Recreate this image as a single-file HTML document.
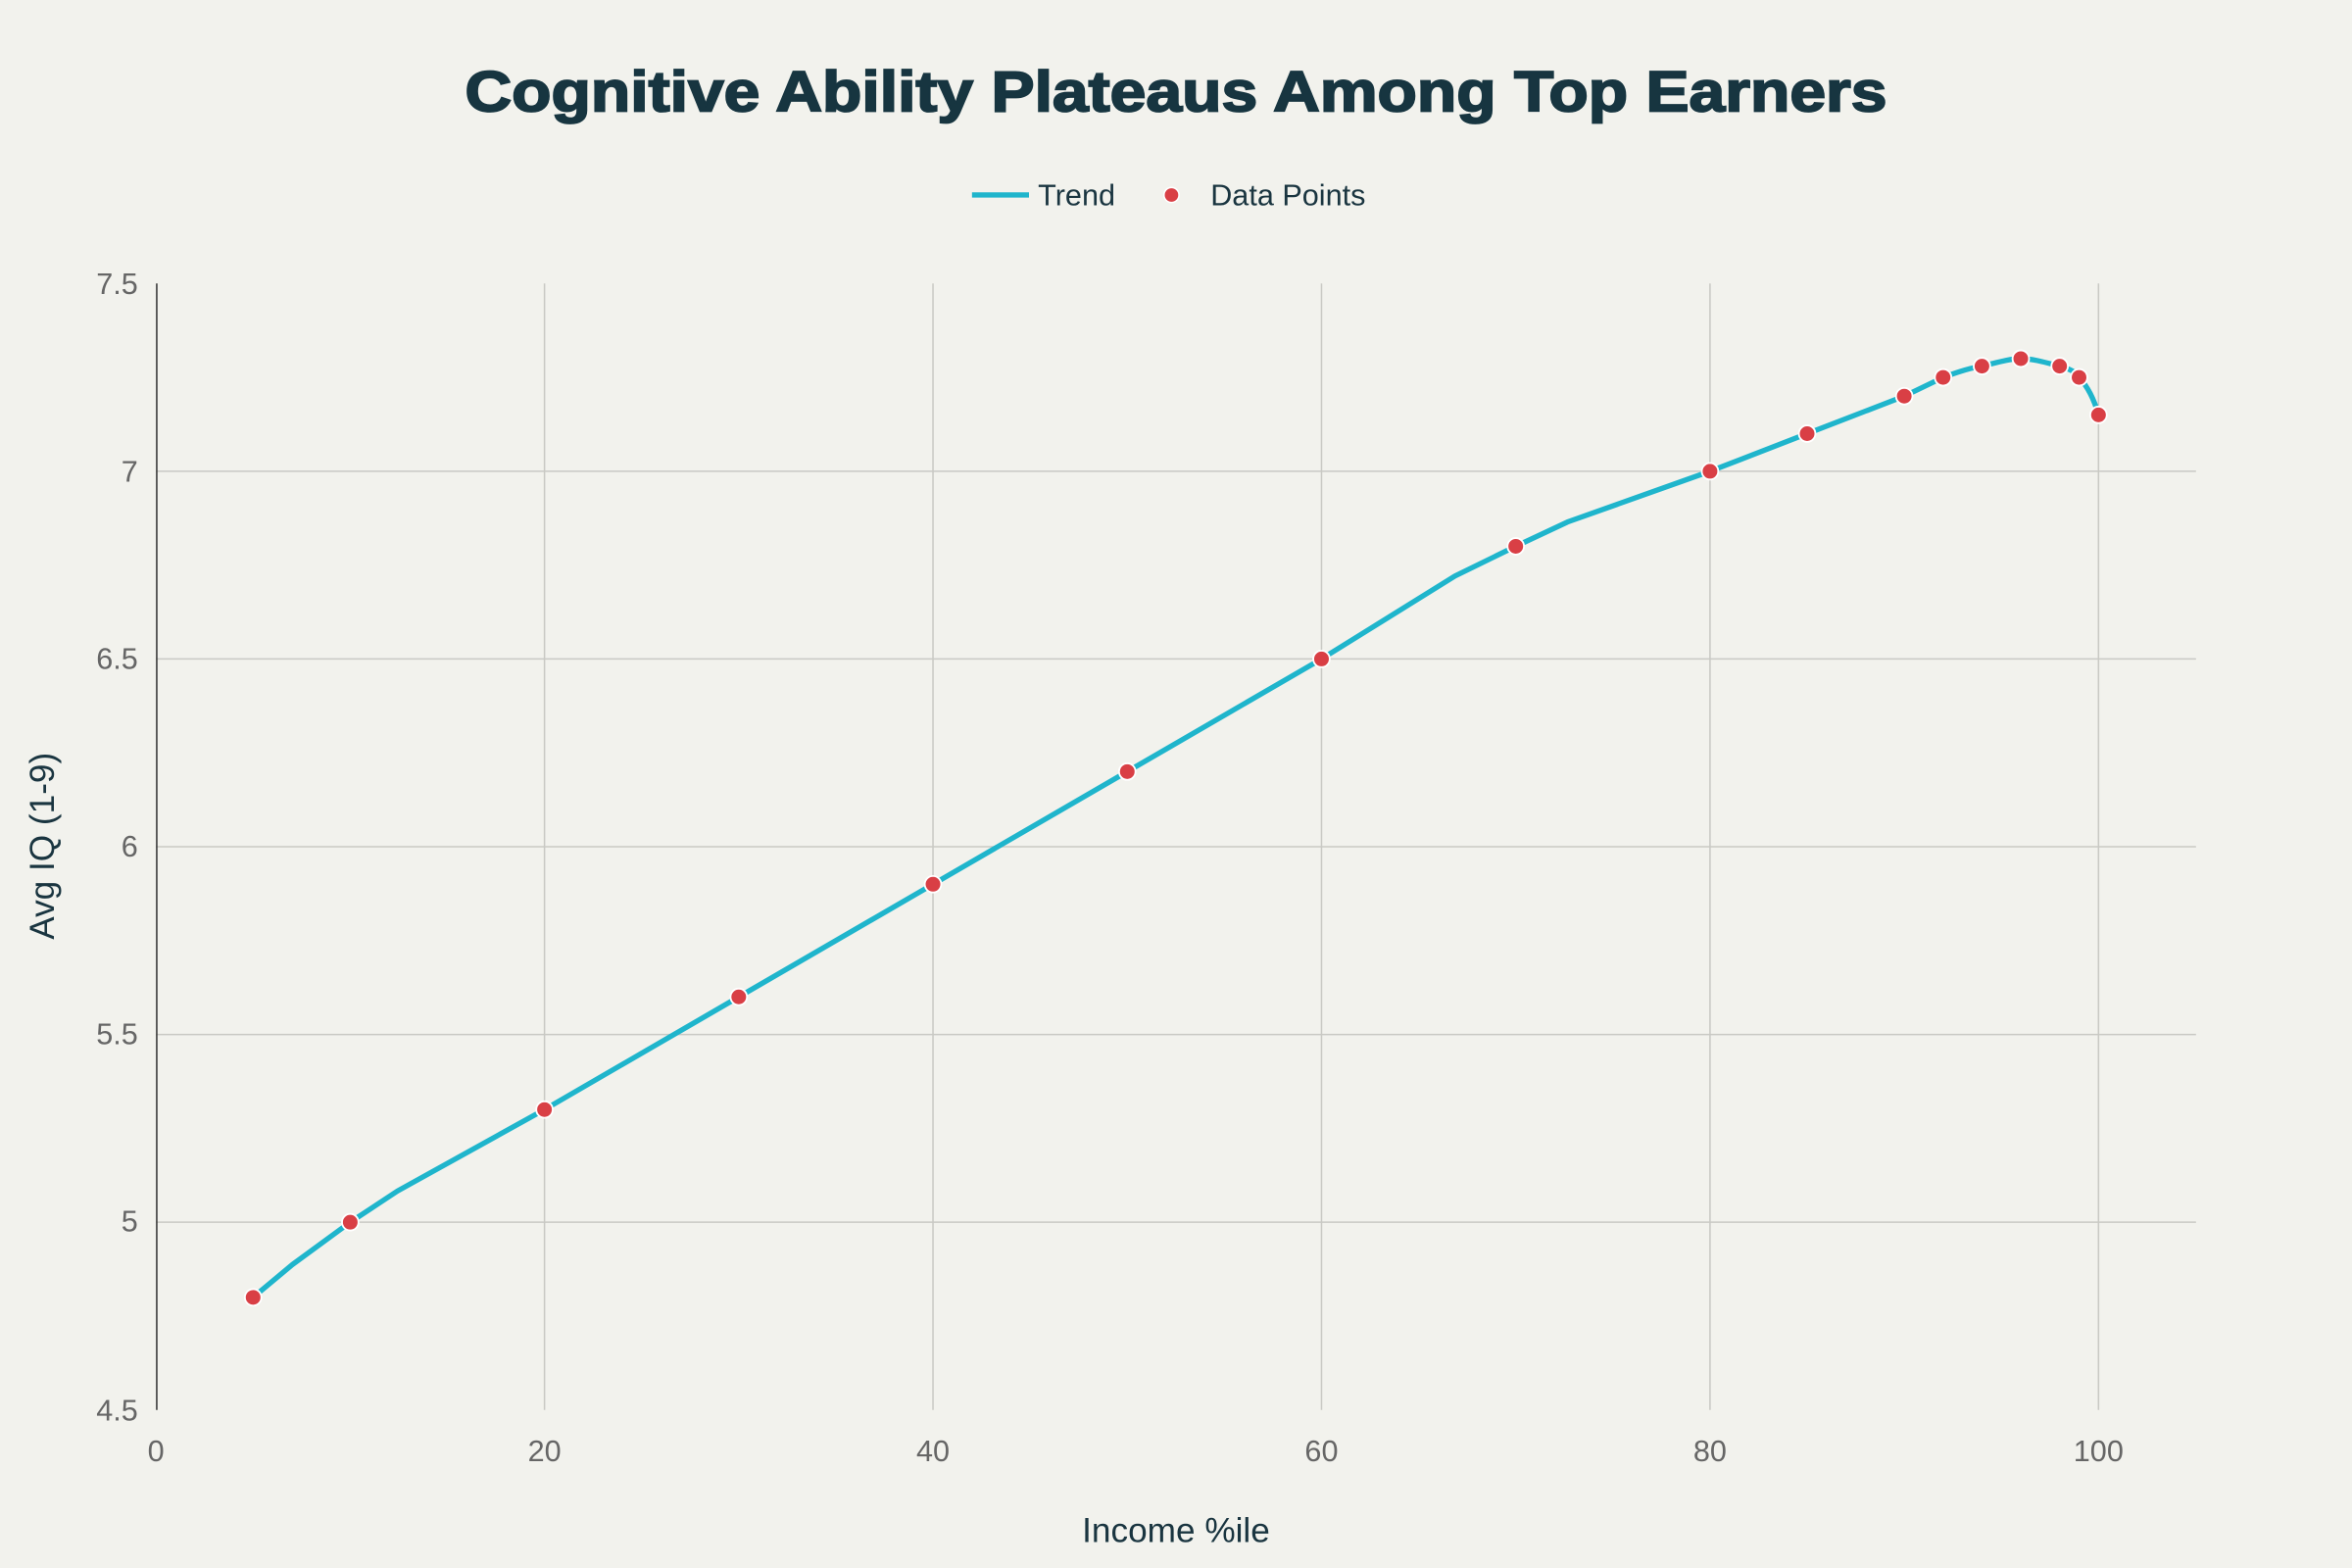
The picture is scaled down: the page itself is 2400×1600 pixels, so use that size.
<!DOCTYPE html>
<html><head><meta charset="utf-8"><style>
html,body{margin:0;padding:0;background:#f2f2ed;}
svg{display:block;}
text{font-family:"Liberation Sans",sans-serif;}
</style></head><body>
<svg width="2400" height="1600" viewBox="0 0 1568 1045.33" preserveAspectRatio="none">
<rect width="1568" height="1046" fill="#f2f2ed"/>
<g stroke="#c9c9c4" stroke-width="1">
<line x1="104" x2="1464" y1="314.2" y2="314.2"/>
<line x1="104" x2="1464" y1="439.3" y2="439.3"/>
<line x1="104" x2="1464" y1="564.5" y2="564.5"/>
<line x1="104" x2="1464" y1="689.7" y2="689.7"/>
<line x1="104" x2="1464" y1="814.8" y2="814.8"/>
<line x1="363" x2="363" y1="189" y2="940"/>
<line x1="622" x2="622" y1="189" y2="940"/>
<line x1="881" x2="881" y1="189" y2="940"/>
<line x1="1140" x2="1140" y1="189" y2="940"/>
<line x1="1399" x2="1399" y1="189" y2="940"/>
</g>
<line x1="104.5" x2="104.5" y1="189" y2="940" stroke="#333" stroke-width="1"/>
<g font-size="20" fill="#666" text-anchor="end">
<text x="92" y="196">7.5</text>
<text x="92" y="321">7</text>
<text x="92" y="446">6.5</text>
<text x="92" y="571">6</text>
<text x="92" y="696">5.5</text>
<text x="92" y="821">5</text>
<text x="92" y="947">4.5</text>
</g>
<g font-size="20" fill="#666" text-anchor="middle">
<text x="104" y="974">0</text>
<text x="363" y="974">20</text>
<text x="622" y="974">40</text>
<text x="881" y="974">60</text>
<text x="1140" y="974">80</text>
<text x="1399" y="974">100</text>
</g>
<text x="784" y="1028" font-size="23" fill="#1a3540" text-anchor="middle">Income %ile</text>
<text transform="translate(36,564) rotate(-90)" font-size="23" fill="#1a3540" text-anchor="middle">Avg IQ (1-9)</text>
<text x="784" y="74" font-size="38" font-weight="bold" fill="#173540" text-anchor="middle" textLength="948" lengthAdjust="spacingAndGlyphs" stroke="#173540" stroke-width="1.2">Cognitive Ability Plateaus Among Top Earners</text>
<line x1="648" x2="686" y1="130" y2="130" stroke="#1fb5cc" stroke-width="3.5"/>
<text x="692" y="137" font-size="20" fill="#1a3540">Trend</text>
<circle cx="781" cy="130" r="5" fill="#d93f45" stroke="#fff" stroke-width="1"/>
<text x="807" y="137" font-size="20" fill="#1a3540">Data Points</text>
<path d="M168.75,864.9 L195,843 L233.5,814.8 L265,794 L363,739.7 L492.5,664.6 L622,589.5 L751.5,514.4 L881,439.3 L970,384 L1010.5,364.2 L1045,348 L1140,314.2 L1204.75,289.1 L1269.5,264.1 L1295.4,251.6 C1305,248 1315,245 1321.3,244.1 C1330,242 1340,239 1347.2,239.1 C1355,239 1365,242 1373.1,244.1 C1380,246 1384,248 1386.05,251.6 C1392,258 1396,266 1399,276.6" fill="none" stroke="#1fb5cc" stroke-width="3.5" stroke-linejoin="round"/>
<g fill="#d93f45" stroke="#fff" stroke-width="1.2">
<circle cx="168.75" cy="864.9" r="5.5"/>
<circle cx="233.5" cy="814.8" r="5.5"/>
<circle cx="363" cy="739.7" r="5.5"/>
<circle cx="492.5" cy="664.6" r="5.5"/>
<circle cx="622" cy="589.5" r="5.5"/>
<circle cx="751.5" cy="514.4" r="5.5"/>
<circle cx="881" cy="439.3" r="5.5"/>
<circle cx="1010.5" cy="364.2" r="5.5"/>
<circle cx="1140" cy="314.2" r="5.5"/>
<circle cx="1204.75" cy="289.1" r="5.5"/>
<circle cx="1269.5" cy="264.1" r="5.5"/>
<circle cx="1295.4" cy="251.6" r="5.5"/>
<circle cx="1321.3" cy="244.1" r="5.5"/>
<circle cx="1347.2" cy="239.1" r="5.5"/>
<circle cx="1373.1" cy="244.1" r="5.5"/>
<circle cx="1386.05" cy="251.6" r="5.5"/>
<circle cx="1399" cy="276.6" r="5.5"/>
</g>
</svg>
</body></html>
